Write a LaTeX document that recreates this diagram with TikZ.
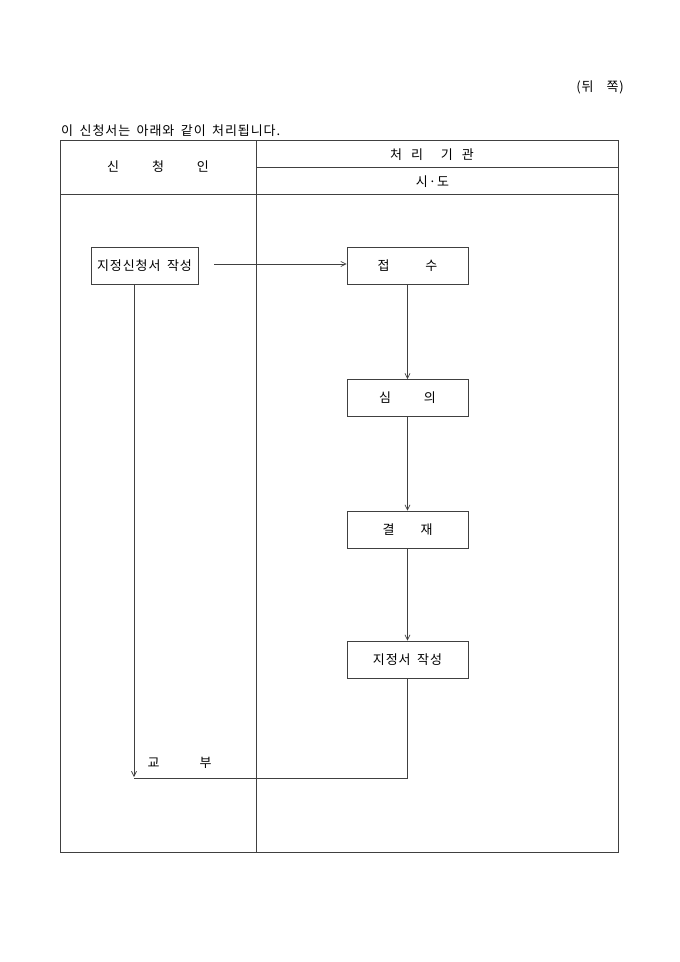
\documentclass[tikz,border=0pt]{standalone}
\usepackage{fontspec}
\setmainfont{Noto Sans CJK KR}[LetterSpace=7,WordSpace=1.7]
\usetikzlibrary{arrows.meta}
\tikzset{
  ln/.style={line width=0.8pt, draw=black!75},
  flowbox/.style={ln, rectangle, minimum height=37pt, inner sep=0pt, font=\fontsize{13}{15}\selectfont},
  arr/.style={ln, -{Straight Barb[length=5pt,width=5pt,line width=0.7pt]}},
  txt/.style={inner sep=0pt, font=\fontsize{13}{15}\selectfont}
}
\begin{document}
\begin{tikzpicture}[x=1pt,y=-1pt]
\useasboundingbox[fill=white] (0,0) rectangle (680,962);
% header texts
\node[txt, anchor=east] (page) at (624,87) {(뒤\hspace{13pt}쪽)};
\node[txt, anchor=west] (title) at (61,130.5) {이 신청서는 아래와 같이 처리됩니다.};
% table
\draw[ln] (60,140) rectangle (618,852);
\draw[ln] (256,140) -- (256,852);
\draw[ln] (256,167) -- (618,167);
\draw[ln] (60,194) -- (618,194);
\node[txt] (applicant) at (158,167) {신\hspace{33pt}청\hspace{33pt}인};
\node[txt] (agency) at (432,155) {처\hspace{9pt}리\hspace{18pt}기\hspace{9pt}관};
\node[txt] (sido) at (432.5,182) {시\hspace{1pt}·\hspace{1pt}도};
% boxes
\node[flowbox, minimum width=107pt] (b1) at (144.5,265.5) {지정신청서 작성};
\node[flowbox, minimum width=121pt] (b2) at (407.5,265.5) {접\hspace{36pt}수};
\node[flowbox, minimum width=121pt] (b3) at (407.5,398) {심\hspace{33pt}의};
\node[flowbox, minimum width=121pt] (b4) at (407.5,529.5) {결\hspace{26pt}재};
\node[flowbox, minimum width=121pt] (b5) at (407.5,659.5) {지정서 작성};
% connectors
\coordinate (a0) at (214,264);
\coordinate (ax) at (134,0);
\coordinate (a2) at (134,777);
\coordinate (a3) at (407.5,778);
\coordinate (a4) at (134,778);
\draw[arr] (a0) -- (a0 -| b2.west);
\draw[arr] (b2) -- (b3);
\draw[arr] (b3) -- (b4);
\draw[arr] (b4) -- (b5);
\draw[arr] (b1.south -| ax) -- (a2);
\draw[ln] (b5.south) -- (a3) -- (a4);
\node[txt] (deliver) at (179.5,763) {교\hspace{40pt}부};
\end{tikzpicture}
\end{document}
